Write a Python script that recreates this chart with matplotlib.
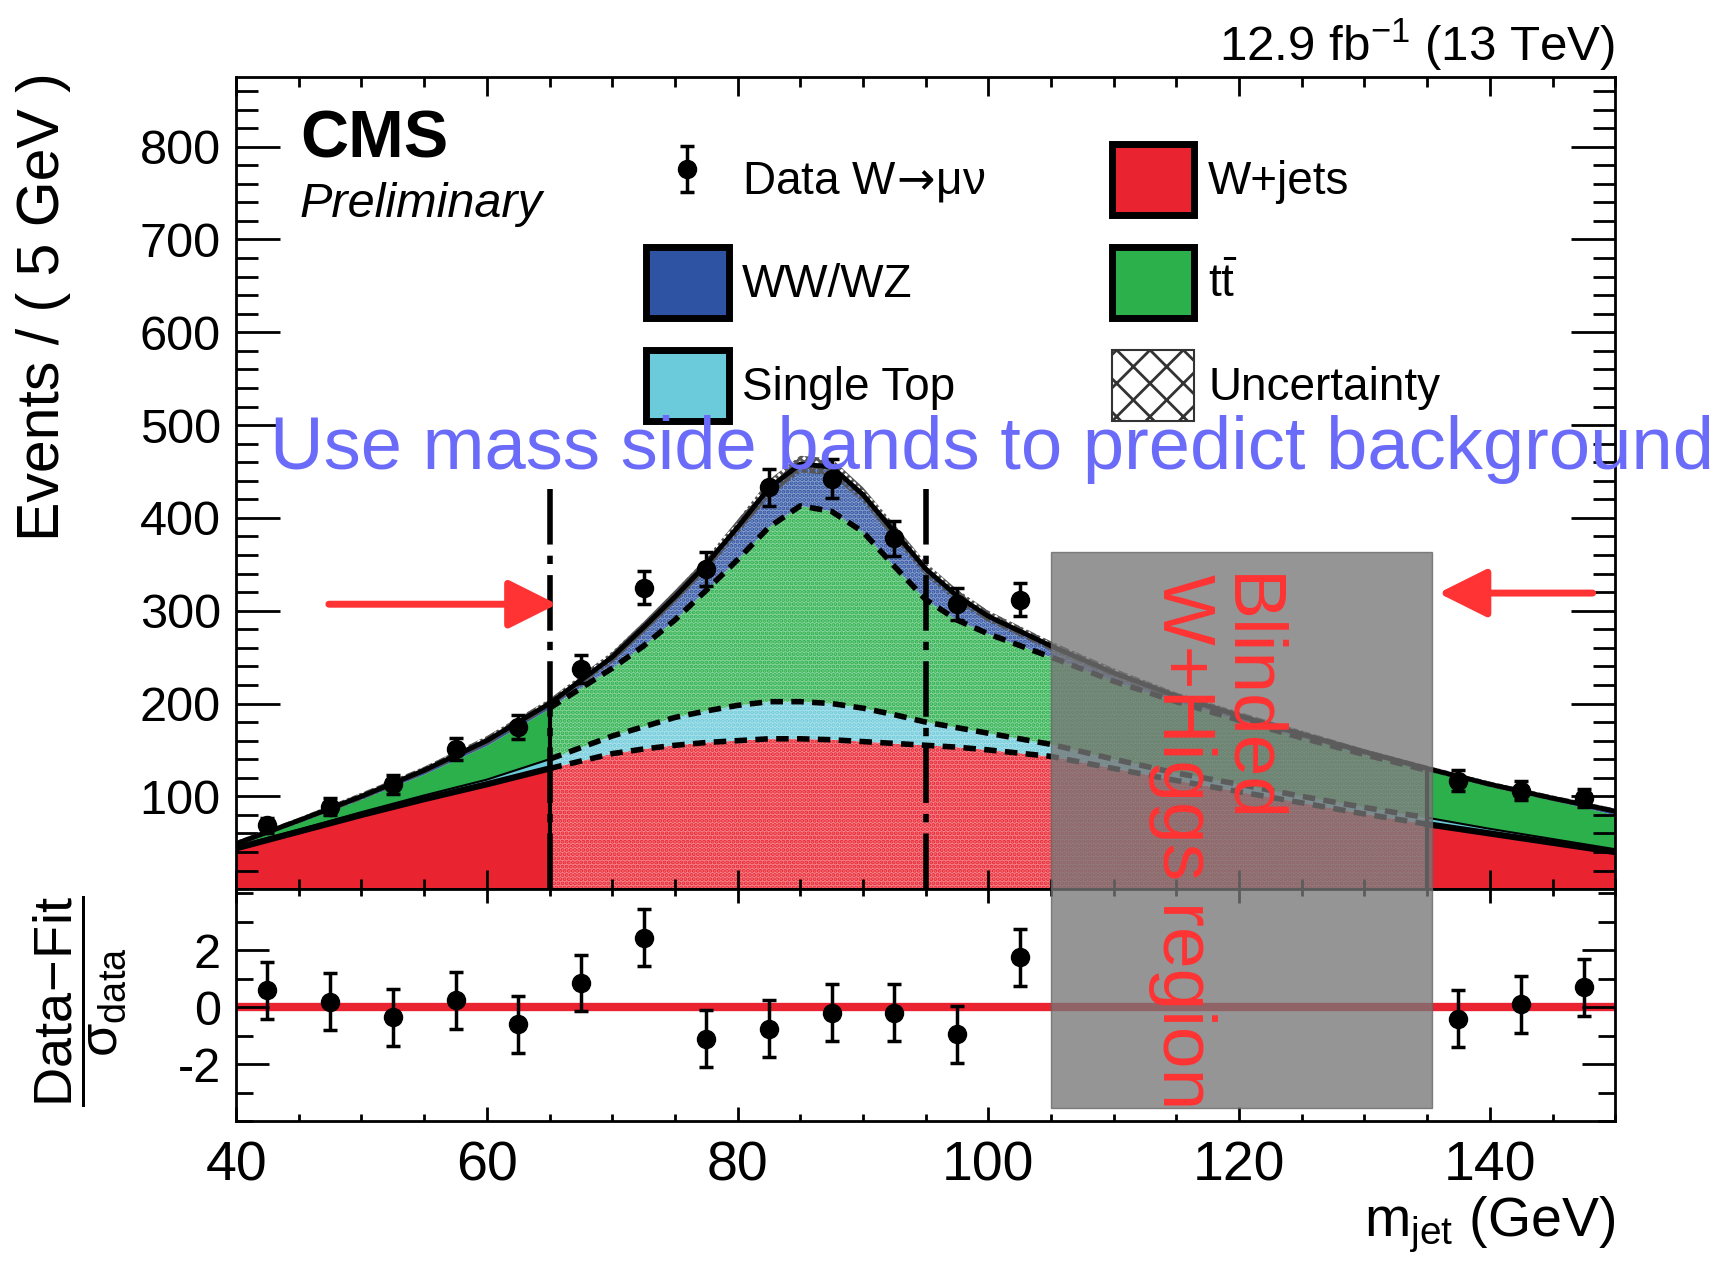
import numpy as np
import matplotlib
matplotlib.use("Agg")
import matplotlib.pyplot as plt
from matplotlib.patches import Patch, Rectangle
from matplotlib.ticker import MultipleLocator
from matplotlib.transforms import blended_transform_factory

plt.rcParams['font.family'] = ['Liberation Sans', 'DejaVu Sans']
plt.rcParams['mathtext.fontset'] = 'custom'
plt.rcParams['mathtext.rm'] = 'Liberation Sans'
plt.rcParams['mathtext.it'] = 'Liberation Sans:italic'
plt.rcParams['mathtext.bf'] = 'Liberation Sans:bold'
plt.rcParams['mathtext.sf'] = 'DejaVu Sans'
plt.rcParams['hatch.linewidth'] = 2.0
plt.rcParams['lines.scale_dashes'] = False
plt.rcParams['axes.unicode_minus'] = False

# fit curves, stacked components (events / 5 GeV)
mass = [40, 45, 50, 55, 60, 65, 70, 72.5, 75, 77.5, 80, 82.5, 85, 87.5, 90, 92.5, 95,
        97.5, 100, 105, 110, 115, 120, 125, 130, 135, 140, 145, 150]
wjets = [44, 62, 80, 97, 113, 130, 146, 151, 155, 158, 160, 162, 162, 161, 159, 157, 155,
         153, 150, 143, 130, 117, 105, 93, 81, 70, 60, 50, 40]
stop = [2, 2, 3, 4, 5, 10, 19, 24, 30, 34, 38, 40, 40, 39, 36, 31, 25, 21, 18, 13, 10,
        8, 8, 7, 7, 7, 5, 4, 3]
ttbar = [2, 8, 14, 23, 37, 55, 73, 87, 105, 130, 157, 188, 211, 207, 190, 160, 132, 116,
         107, 94, 84, 77, 69, 63, 57, 51, 46, 42, 37]
wwwz = [1, 2, 3, 4, 5, 5, 12, 20, 25, 28, 35, 42, 45, 48, 40, 37, 33, 26, 19, 12, 9, 6,
        5, 4, 3, 2, 2, 2, 4]
fit_unc = [3, 3, 4, 4, 5, 5, 6, 6, 7, 7, 8, 9, 9, 9, 8, 8, 7, 7, 6, 5, 5, 4, 4, 4, 3, 3,
           3, 3, 3]

# data
data_x = [42.5, 47.5, 52.5, 57.5, 62.5, 67.5, 72.5, 77.5, 82.5, 87.5, 92.5, 97.5,
          102.5, 137.5, 142.5, 147.5]
data_y = [69, 89, 113, 151, 175, 237, 325, 345, 433, 442, 378, 307, 312, 117, 106, 98]
data_err = [8, 9, 10, 12, 13, 15, 18, 18, 20, 21, 19, 17, 18, 11, 10, 10]
pull = [0.6, 0.2, -0.35, 0.25, -0.6, 0.85, 2.45, -1.1, -0.75, -0.2, -0.2, -0.95, 1.75,
        -0.4, 0.1, 0.7]
pull_err = [1.0, 1.0, 1.0, 1.0, 1.0, 1.0, 1.0, 1.0, 1.0, 1.0, 1.0, 1.0, 1.0, 1.0, 1.0, 1.0]

low_edge = 65
sig_edge = 95
blind_lo = 105
blind_hi = 135
window_top = 437

c_w = '#EA2330'
c_st = '#6CCBDB'
c_tt = '#2BB04C'
c_ww = '#2E53A3'
c_ann = '#FF3333'

x = np.array(mass)
y0 = np.array(wjets, float)
y1 = y0 + np.array(stop)
y2 = y1 + np.array(ttbar)
y3 = y2 + np.array(wwwz)
unc = np.array(fit_unc)

left = x <= low_edge
mid = (x >= low_edge) & (x <= blind_hi)
right = x >= blind_hi

fig = plt.figure(figsize=(17.31, 12.63), dpi=100)
ax = fig.add_axes([0.1364, 0.296, 0.7967, 0.643])
ax2 = fig.add_axes([0.1364, 0.1124, 0.7967, 0.1836])


def light(c, f):
    r, g, b = matplotlib.colors.to_rgb(c)
    return (1 - f + f * r, 1 - f + f * g, 1 - f + f * b)


layers = [(np.zeros_like(y0), y0, c_w), (y0, y1, c_st), (y1, y2, c_tt), (y2, y3, c_ww)]
for lo, hi, col in layers:
    for side in (left, right):
        ax.fill_between(x, lo, hi, where=side, color=col, lw=0, zorder=1)
    ax.fill_between(x, lo, hi, where=mid, facecolor=light(col, 0.55), edgecolor=col,
                    hatch='....', lw=0, zorder=1)

# uncertainty band
ax.fill_between(x, y3 - unc, y3 + unc, facecolor='none', edgecolor='#555555',
                hatch='xxxx', lw=0, zorder=2)

# curve outlines
for side in (left, right):
    ax.plot(x[side], y0[side], color='black', lw=4.5, zorder=3)
    ax.plot(x[side], y1[side], color='black', lw=1.5, zorder=3)
for yy in (y0, y1, y2):
    ax.plot(x[mid], yy[mid], color='black', lw=4, dashes=[9, 6], zorder=3)
ax.plot(x, y3, color='black', lw=3.5, zorder=3)
i_lo = mass.index(low_edge)
i_hi = mass.index(blind_hi)
ax.vlines([low_edge, blind_hi], 0, [y3[i_lo], y3[i_hi]], color='black', lw=3, zorder=3)
ax.vlines([low_edge, sig_edge], 0, window_top, color='black', lw=4,
          linestyles=[(0, (40, 8, 6, 8))], zorder=4)

# data
h_data = ax.errorbar(data_x, data_y, yerr=data_err, fmt='o', color='black', ms=13,
                     elinewidth=2.5, capsize=5, capthick=2.5, zorder=5)

ax.set_xlim(40, 150)
ax.set_ylim(0, 875)
ax.set_yticks([100, 200, 300, 400, 500, 600, 700, 800])
ax.yaxis.set_minor_locator(MultipleLocator(20))
ax.xaxis.set_major_locator(MultipleLocator(20))
ax.xaxis.set_minor_locator(MultipleLocator(5))
ax.tick_params(axis='both', which='both', direction='in', top=True, right=True,
               width=2, labelsize=35)
ax.tick_params(axis='x', which='major', length=14, labelbottom=False)
ax.tick_params(axis='x', which='minor', length=7)
ax.tick_params(axis='y', which='major', length=32, pad=11)
ax.tick_params(axis='y', which='minor', length=16)
for s in ax.spines.values():
    s.set_linewidth(2)

# ratio panel
ax2.axhline(0, color=c_w, lw=6, zorder=1)
ax2.errorbar(data_x, pull, yerr=pull_err, fmt='o', color='black', ms=13,
             elinewidth=2.5, capsize=5, capthick=2.5, zorder=3)
ax2.set_xlim(40, 150)
ax2.set_ylim(-4, 4.15)
ax2.set_yticks([-2, 0, 2])
ax2.yaxis.set_minor_locator(MultipleLocator(1))
ax2.xaxis.set_major_locator(MultipleLocator(20))
ax2.xaxis.set_minor_locator(MultipleLocator(5))
ax2.tick_params(axis='both', which='both', direction='in', top=True, right=True,
                width=2, labelsize=35)
ax2.tick_params(axis='x', which='major', length=10, pad=14, labelsize=40)
ax2.tick_params(axis='x', which='minor', length=5)
ax2.tick_params(axis='y', which='major', length=24, pad=11)
ax2.tick_params(axis='y', which='minor', length=12)
for s in ax2.spines.values():
    s.set_linewidth(2)

# labels
fig.text(0.0254, 0.943, 'Events / ( 5 GeV )', rotation=90, ha='center', va='top',
         fontsize=42.5)
fig.text(0.0462, 0.2074, r'$\dfrac{\mathrm{Data\!-\!Fit}}{\mathrm{\sigma_{data}}}$',
         rotation=90, ha='center', va='center', fontsize=39)
fig.text(0.933, 0.021, r'm$_{\mathrm{jet}}$ (GeV)', ha='right', va='baseline', fontsize=40)
fig.text(0.933, 0.952, r'12.9 fb$^{\mathrm{-1}}$ (13 TeV)', ha='right', va='baseline',
         fontsize=35.5)
fig.text(0.1733, 0.913, 'CMS', fontweight='bold', ha='left', va='top', fontsize=48)
fig.text(0.1733, 0.856, 'Preliminary', style='italic', ha='left', va='top', fontsize=35)

handles = [h_data,
           Patch(facecolor=c_ww, edgecolor='black', lw=5),
           Patch(facecolor=c_st, edgecolor='black', lw=5),
           Patch(facecolor=c_w, edgecolor='black', lw=5),
           Patch(facecolor=c_tt, edgecolor='black', lw=5),
           Patch(facecolor='white', edgecolor='#333333', hatch='x', lw=1.5)]
labels = [r'Data W$\!\mathsf{\rightarrow}\!\mathrm{\mu\nu}$', 'WW/WZ', 'Single Top',
          'W+jets', r'$\mathrm{t\bar{t}}$', 'Uncertainty']
fig.legend(handles, labels, ncol=2, loc='upper left', bbox_to_anchor=(0.3732, 0.886),
           frameon=False, fontsize=33, handlelength=1.8, handleheight=2.0,
           handletextpad=0.3, labelspacing=0.7, columnspacing=2.75, borderpad=0,
           borderaxespad=0)

# annotations
blend = blended_transform_factory(ax.transData, fig.transFigure)
fig.add_artist(Rectangle((blind_lo, 0.1227), blind_hi - blind_lo + 0.4, 0.4403,
                         transform=blend, facecolor='#777777', alpha=0.78,
                         edgecolor='#666666', lw=1, zorder=5))
fig.text(118.1, 0.5455, 'Blinded\nW+Higgs region', transform=blend, rotation=-90,
         ha='center', va='top', multialignment='left', linespacing=0.92, color=c_ann,
         fontsize=54, zorder=6)
ax.annotate('', xy=(65.6, 307), xytext=(47.4, 307),
            arrowprops=dict(arrowstyle='-|>', lw=5, color=c_ann, mutation_scale=75,
                            shrinkA=0, shrinkB=0), zorder=7, annotation_clip=False)
ax.annotate('', xy=(135.9, 319), xytext=(148.2, 319),
            arrowprops=dict(arrowstyle='-|>', lw=5, color=c_ann, mutation_scale=75,
                            shrinkA=0, shrinkB=0), zorder=7, annotation_clip=False)
fig.text(0.156, 0.6287, 'Use mass side bands to predict background', color='#6B6BFA',
         ha='left', va='baseline', fontsize=53.5, zorder=8)

fig.savefig('out.png', dpi=100)
